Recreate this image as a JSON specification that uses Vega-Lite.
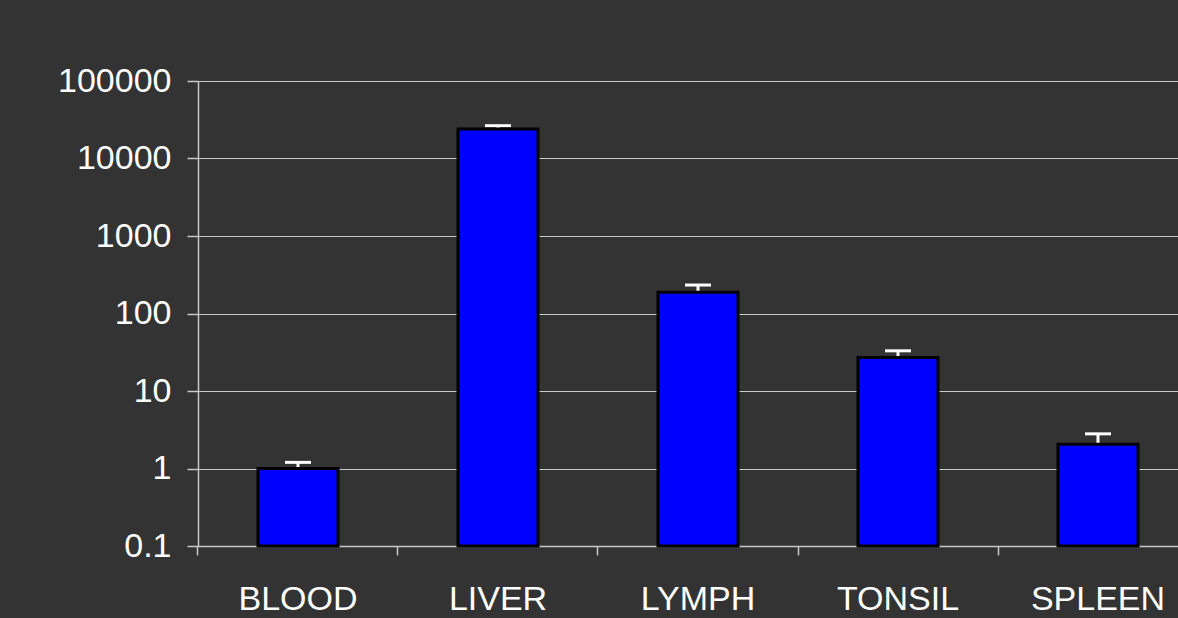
{
  "$schema": "https://vega.github.io/schema/vega-lite/v6.json",
  "autosize": "none",
  "padding": {"left": 198, "top": 81, "right": 0, "bottom": 72},
  "width": 980,
  "height": 465,
  "background": "#333333",
  "data": {
    "values": [
      {"tissue": "BLOOD", "value": 1.0, "upper": 1.2},
      {"tissue": "LIVER", "value": 24000, "upper": 26500},
      {"tissue": "LYMPH", "value": 188, "upper": 233},
      {"tissue": "TONSIL", "value": 27, "upper": 33},
      {"tissue": "SPLEEN", "value": 2.05, "upper": 2.8}
    ]
  },
  "encoding": {
    "x": {
      "field": "tissue",
      "type": "nominal",
      "sort": null,
      "title": null,
      "scale": {"range": [0, 1000], "paddingInner": 0.6, "paddingOuter": 0.3},
      "axis": {
        "bandPosition": -0.75,
        "labelAngle": 0,
        "labelFont": "Liberation Sans",
        "labelFontSize": 34,
        "labelColor": "#ffffff",
        "labelPadding": 27,
        "labelBaseline": "top",
        "domainColor": "#c8c8c8",
        "domainWidth": 1.5,
        "tickColor": "#c8c8c8",
        "tickWidth": 1.5,
        "tickSize": 9,
        "grid": false
      }
    }
  },
  "layer": [
    {
      "mark": {"type": "rule", "color": "#ffffff", "strokeWidth": 3},
      "encoding": {
        "y": {"field": "value", "type": "quantitative"},
        "y2": {"field": "upper"}
      }
    },
    {
      "mark": {"type": "tick", "color": "#ffffff", "size": 26, "thickness": 3, "opacity": 1},
      "encoding": {
        "y": {"field": "upper", "type": "quantitative"}
      }
    },
    {
      "mark": {"type": "bar", "fill": "#0000ff", "stroke": "#000000", "strokeWidth": 3},
      "encoding": {
        "y": {
          "field": "value",
          "type": "quantitative",
          "title": null,
          "scale": {"type": "log", "domain": [0.1, 100000], "nice": false},
          "axis": {
            "values": [0.1, 1, 10, 100, 1000, 10000, 100000],
            "format": "~g",
            "labelFont": "Liberation Sans",
            "labelFontSize": 34,
            "labelColor": "#ffffff",
            "labelPadding": 16,
            "domainColor": "#c8c8c8",
            "domainWidth": 1.5,
            "tickColor": "#c8c8c8",
            "tickWidth": 1.5,
            "tickSize": 11,
            "grid": true,
            "gridColor": "#c8c8c8",
            "gridWidth": 1.2,
            "gridOpacity": 1
          }
        },
        "y2": {"datum": 0.1}
      }
    }
  ],
  "config": {
    "view": {"stroke": null}
  }
}
